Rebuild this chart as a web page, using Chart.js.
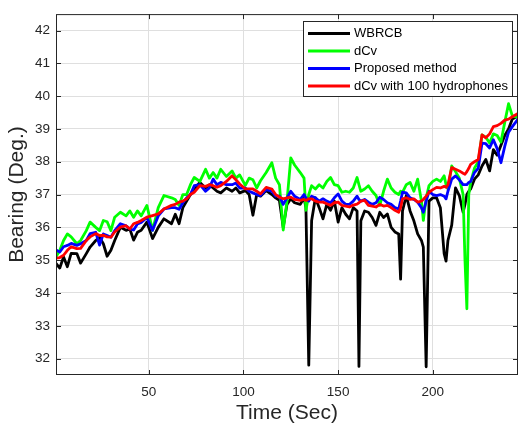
<!DOCTYPE html>
<html>
<head>
<meta charset="utf-8">
<script src="https://cdn.jsdelivr.net/npm/chart.js@4/dist/chart.umd.min.js"></script>
<style>
  html, body { margin: 0; padding: 0; background: #fff; }
</style>
</head>
<body>
<canvas id="c" width="520" height="426"></canvas>
<script>
// time axis (sec), shared by every series
const times = [
  1, 3, 5, 7, 9, 12, 14, 17, 19, 22,
  24, 26, 28, 30, 32, 35, 38, 40, 42, 44,
  46, 49, 52, 55, 58, 62, 64, 66, 68, 70,
  72, 74, 77, 80, 82, 84, 86, 88, 91, 94,
  96, 98, 101, 103, 105, 107, 109, 112, 115, 117,
  119, 121, 123, 125, 127, 130, 132, 133, 134.5, 136,
  138, 140, 142, 144, 146, 148, 150, 152, 154, 156,
  158, 160, 161, 162, 164, 166, 168, 170, 172, 174,
  176, 178, 180, 182, 183, 184, 186, 188, 190, 192,
  194, 195, 196.5, 198, 200, 202, 204, 206, 207, 208,
  210, 212, 214, 216, 217, 218, 219, 220, 222, 224,
  226, 228, 230, 232, 234, 236, 238, 240, 242, 245
];

const wbrcb = [
  34.9, 34.76, 35.1, 34.8, 35.21, 35.2, 34.91, 35.2, 35.4, 35.6,
  35.7, 35.5, 35.12, 35.3, 35.6, 36.0, 35.91, 35.95, 35.61, 35.85,
  35.91, 36.16, 35.66, 36.0, 36.26, 36.11, 36.4, 36.11, 36.6, 36.8,
  37.0, 37.17, 37.37, 37.2, 37.3, 37.2, 37.1, 37.05, 37.2, 37.1,
  37.2, 37.05, 37.12, 37.0, 36.37, 37.0, 36.95, 37.12, 37.0, 36.9,
  36.82, 36.0, 36.7, 36.87, 36.75, 36.7, 36.9, 36.6, 31.8, 36.2,
  36.9, 36.6, 36.26, 36.7, 36.52, 36.8, 36.16, 36.6, 36.4, 36.26,
  36.6, 36.5, 31.76, 36.2, 36.5, 36.46, 36.3, 36.06, 36.46, 36.3,
  36.41, 36.0, 35.86, 35.8, 34.42, 36.5, 36.97, 36.5, 36.2, 35.8,
  35.6, 35.4, 31.75, 36.8, 36.9, 36.9, 36.6, 35.2, 34.97, 35.6,
  36.07, 37.2, 36.97, 36.46, 36.7, 37.0, 37.1, 37.17, 37.47, 37.6,
  37.87, 38.07, 37.72, 38.37, 38.2, 38.5, 38.8, 39.0, 39.3, 39.4
];

const dcv = [
  35.1, 35.3, 35.6, 35.8, 35.71, 35.5, 35.6, 35.9, 36.16, 36.0,
  35.9, 36.21, 36.17, 35.9, 36.31, 36.46, 36.35, 36.5, 36.31, 36.5,
  36.35, 36.67, 35.91, 36.6, 36.97, 36.9, 36.85, 36.67, 37.0, 37.0,
  37.3, 37.52, 37.4, 37.77, 37.5, 37.67, 37.5, 37.77, 37.55, 37.72,
  37.5, 37.6, 37.28, 37.5, 37.45, 37.2, 37.42, 37.67, 37.97, 37.5,
  37.3, 35.92, 36.8, 38.12, 37.9, 37.67, 37.5, 36.52, 37.0, 37.27,
  37.17, 37.3, 37.2, 37.4, 37.52, 37.3, 37.27, 37.07, 37.1, 37.07,
  37.2, 37.52, 37.3, 37.1, 37.17, 37.27, 37.1, 36.97, 36.67, 37.1,
  37.47, 37.2, 37.07, 37.0, 37.1, 37.07, 37.3, 37.37, 37.1, 37.47,
  36.8, 36.21, 36.9, 37.27, 37.4, 37.47, 37.4, 37.57, 37.3, 37.17,
  37.87, 37.7, 37.5, 37.0, 35.0, 33.52, 37.0, 37.37, 37.8, 38.0,
  38.82, 38.75, 38.57, 38.85, 38.8, 38.6, 39.2, 39.77, 39.4, 39.35
];

const proposed = [
  35.31, 35.25, 35.41, 35.45, 35.51, 35.45, 35.5, 35.6, 35.81, 35.85,
  35.46, 35.8, 35.75, 35.7, 35.9, 36.11, 36.05, 35.95, 35.92, 36.1,
  36.15, 36.3, 35.91, 36.35, 36.56, 36.6, 36.6, 36.55, 36.75, 36.9,
  37.0, 37.27, 37.3, 37.1, 37.2, 37.47, 37.3, 37.37, 37.3, 37.3,
  37.35, 37.2, 37.2, 37.1, 37.05, 37.0, 36.97, 37.15, 37.1, 36.95,
  36.95, 36.7, 36.9, 37.1, 36.95, 36.85, 37.0, 36.9, 36.8, 36.95,
  36.9, 36.8, 36.87, 36.8, 36.75, 36.9, 37.02, 36.8, 36.7, 36.7,
  36.8, 36.95, 36.85, 36.8, 36.85, 36.77, 36.7, 36.75, 36.92, 36.85,
  36.75, 36.7, 36.6, 36.56, 36.8, 37.07, 37.05, 36.9, 36.85, 36.77,
  36.6, 36.46, 36.8, 37.1, 37.0, 36.97, 37.0, 36.95, 36.87, 37.1,
  37.47, 37.57, 37.45, 37.3, 37.3, 37.3, 37.37, 37.4, 37.67, 37.8,
  38.57, 38.55, 38.42, 38.67, 38.4, 37.97, 38.47, 38.9, 39.07, 39.3
];

const dcv100 = [
  35.06, 35.08, 35.15, 35.3, 35.41, 35.35, 35.36, 35.6, 35.71, 35.81,
  35.75, 35.76, 35.71, 35.7, 35.86, 36.01, 36.05, 35.95, 36.11, 36.15,
  36.21, 36.31, 36.36, 36.41, 36.56, 36.67, 36.7, 36.77, 36.8, 36.87,
  37.0, 37.07, 37.27, 37.25, 37.3, 37.27, 37.22, 37.27, 37.4, 37.57,
  37.45, 37.32, 37.17, 37.17, 37.17, 37.1, 37.02, 37.22, 37.17, 37.0,
  36.92, 36.87, 36.9, 36.92, 36.85, 36.82, 36.85, 36.82, 36.87, 36.87,
  36.8, 36.77, 36.77, 36.72, 36.67, 36.75, 36.77, 36.67, 36.65, 36.62,
  36.68, 36.71, 36.75, 36.8, 36.82, 36.67, 36.65, 36.62, 36.7, 36.65,
  36.67, 36.6, 36.52, 36.46, 36.6, 36.87, 36.9, 36.85, 36.87, 36.77,
  36.8, 36.85, 36.95, 37.07, 37.15, 37.22, 37.2, 37.25, 37.22, 37.3,
  37.82, 37.77, 37.72, 37.65, 37.62, 37.7, 37.8, 37.92, 38.0, 38.07,
  38.82, 38.73, 38.85, 39.07, 39.1, 39.17, 39.27, 39.3, 39.37, 39.47
];

const xTicks = [50, 100, 150, 200];
const yTicks = [32, 33, 34, 35, 36, 37, 38, 39, 40, 41, 42];

const FONT = '"Liberation Sans", Arial, Helvetica, sans-serif';
const AXIS = '#262626';

const toPoints = (vals) => vals.map((v, i) => ({ x: times[i], y: v }));

const series = [
  { label: 'WBRCB', values: wbrcb, color: '#000000', order: 4 },
  { label: 'dCv', values: dcv, color: '#00ff00', order: 3 },
  { label: 'Proposed method', values: proposed, color: '#0000ff', order: 2 },
  { label: 'dCv with 100 hydrophones', values: dcv100, color: '#ff0000', order: 1 },
];

// matlab-ish box with inward ticks
const boxPlugin = {
  id: 'box',
  afterDatasetsDraw(chart) {
    const { ctx, chartArea: a, scales: { x, y } } = chart;
    ctx.save();
    ctx.strokeStyle = AXIS;
    ctx.lineWidth = 1;
    ctx.strokeRect(a.left + 0.5, a.top + 0.5, a.right - a.left - 1, a.bottom - a.top - 1);
    ctx.beginPath();
    xTicks.forEach(v => {
      const px = Math.round(x.getPixelForValue(v)) + 0.5;
      ctx.moveTo(px, a.bottom); ctx.lineTo(px, a.bottom - 5);
      ctx.moveTo(px, a.top); ctx.lineTo(px, a.top + 5);
    });
    yTicks.forEach(v => {
      const py = Math.round(y.getPixelForValue(v)) + 0.5;
      ctx.moveTo(a.left, py); ctx.lineTo(a.left + 5, py);
      ctx.moveTo(a.right, py); ctx.lineTo(a.right - 5, py);
    });
    ctx.stroke();
    ctx.restore();
  }
};

// boxed legend in the upper right of the axes
const legendPlugin = {
  id: 'boxLegend',
  afterDraw(chart) {
    const { ctx } = chart;
    const bx = 303, by = 21, bw = 209, bh = 75;
    ctx.save();
    ctx.fillStyle = '#fff';
    ctx.fillRect(bx, by, bw, bh);
    ctx.strokeStyle = AXIS;
    ctx.lineWidth = 1;
    ctx.strokeRect(bx + 0.5, by + 0.5, bw, bh);
    ctx.font = '13px ' + FONT;
    ctx.textBaseline = 'middle';
    chart.data.datasets.forEach((ds, i) => {
      const ry = by + 12.5 + i * 17.5;
      ctx.strokeStyle = ds.borderColor;
      ctx.lineWidth = 3;
      ctx.beginPath();
      ctx.moveTo(308, ry); ctx.lineTo(350, ry);
      ctx.stroke();
      ctx.fillStyle = '#000';
      ctx.fillText(ds.label, 354, ry);
    });
    ctx.restore();
  }
};

new Chart(document.getElementById('c'), {
  type: 'line',
  data: {
    datasets: series.map(s => ({
      label: s.label,
      data: toPoints(s.values),
      borderColor: s.color,
      backgroundColor: s.color,
      borderWidth: 2.8,
      borderJoinStyle: 'round',
      pointRadius: 0,
      tension: 0,
      order: s.order,
    }))
  },
  options: {
    responsive: false,
    animation: false,
    devicePixelRatio: 1,
    layout: { padding: { top: 9, right: 2, left: 0, bottom: 0 } },
    plugins: { legend: { display: false }, tooltip: { enabled: false } },
    scales: {
      x: {
        type: 'linear',
        min: 1,
        max: 245,
        afterBuildTicks: (scale) => { scale.ticks = xTicks.map(v => ({ value: v })); },
        afterFit: (scale) => { scale.height = 51; },
        grid: { color: '#dfdfdf', drawTicks: false },
        border: { display: false },
        ticks: { color: AXIS, padding: 9, font: { family: FONT, size: 13.5 }, maxRotation: 0 },
        title: {
          display: true,
          text: 'Time (Sec)',
          color: AXIS,
          font: { family: FONT, size: 21 },
          padding: { top: 0, bottom: 0 }
        }
      },
      y: {
        min: 31.5,
        max: 42.5,
        afterBuildTicks: (scale) => { scale.ticks = yTicks.map(v => ({ value: v })); },
        afterFit: (scale) => { scale.width = 56; },
        grid: { color: '#dfdfdf', drawTicks: false },
        border: { display: false },
        ticks: { color: AXIS, padding: 6, font: { family: FONT, size: 13.5 } },
        title: {
          display: true,
          text: 'Bearing (Deg.)',
          color: AXIS,
          font: { family: FONT, size: 21 },
          padding: { top: 5, bottom: 0 }
        }
      }
    }
  },
  plugins: [boxPlugin, legendPlugin]
});
</script>
</body>
</html>
